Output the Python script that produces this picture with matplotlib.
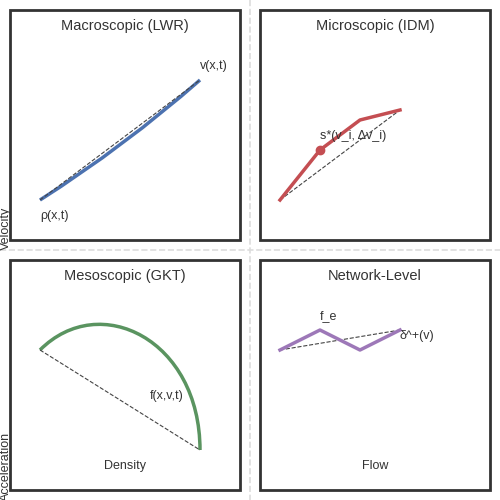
import matplotlib; matplotlib.use('Agg')
import numpy as np
from matplotlib import pyplot as plt
from matplotlib.patches import Rectangle, PathPatch
from matplotlib.path import Path

plt.rcParams['font.family'] = ['Liberation Sans', 'DejaVu Sans']

# curves, in figure pixel units (y down); smooth ones are Bezier control points
lwr_pts = [(40, 200), (125, 146), (200, 80)]
idm_x = [280, 320, 360, 400]
idm_y = [200, 150, 120, 110]
gkt_pts = [(40, 350), (100, 290), (200, 340), (200, 450)]
net_x = [280, 320, 360, 400]
net_y = [350, 330, 350, 330]

titles = ['Macroscopic (LWR)', 'Microscopic (IDM)', 'Mesoscopic (GKT)', 'Network-Level']
boxes = [(10, 10), (260, 10), (10, 260), (260, 260)]

fig = plt.figure(figsize=(5, 5), dpi=100)
ax = fig.add_axes([0, 0, 1, 1])
ax.set_xlim(0, 500)
ax.set_ylim(500, 0)
ax.axis('off')

for (x0, y0), t in zip(boxes, titles):
    ax.add_patch(Rectangle((x0, y0), 230, 230, fill=False, ec='#333333', lw=2))
    ax.text(x0 + 115, y0 + 16, t, ha='center', va='center', fontsize=10.5, color='#333333')

ax.plot([0, 500], [250, 250], ls='--', color='#dddddd', lw=1.2)
ax.plot([250, 250], [0, 500], ls='--', color='#dddddd', lw=1.2)

dash = dict(ls='--', color='#444444', lw=0.8)
ax.plot([40, 200], [200, 80], **dash)
ax.add_patch(PathPatch(Path(lwr_pts, [Path.MOVETO, Path.CURVE3, Path.CURVE3]),
                       fill=False, ec='#4c72b0', lw=2.5))
ax.text(200, 66, 'v(x,t)', fontsize=9, color='#333333', va='center')
ax.text(40, 216, 'ρ(x,t)', fontsize=9, color='#333333', va='center')

ax.plot([280, 400], [200, 110], **dash)
ax.plot(idm_x, idm_y, color='#c44e52', lw=2.5)
ax.plot(idm_x[1], idm_y[1], 'o', color='#c44e52', ms=6)
ax.text(320, 136, 's*(v_i, Δv_i)', fontsize=9, color='#333333', va='center')

ax.plot([40, 200], [350, 450], **dash)
ax.add_patch(PathPatch(Path(gkt_pts, [Path.MOVETO, Path.CURVE4, Path.CURVE4, Path.CURVE4]),
                       fill=False, ec='#5a9460', lw=2.5))
ax.text(150, 396, 'f(x,v,t)', fontsize=9, color='#333333', va='center')
ax.text(125, 466, 'Density', fontsize=9, color='#333333', ha='center', va='center')

ax.plot([280, 400], [350, 330], **dash)
ax.plot(net_x, net_y, color='#9d78b8', lw=2.5)
ax.text(320, 316, 'f_e', fontsize=9, color='#333333', va='center')
ax.text(400, 336, 'δ^+(v)', fontsize=9, color='#333333', va='center')
ax.text(375, 466, 'Flow', fontsize=9, color='#333333', ha='center', va='center')

ax.text(6, 228, 'Velocity', rotation=90, fontsize=9, color='#333333', ha='center', va='center')
ax.text(6, 466, 'Acceleration', rotation=90, fontsize=9, color='#333333', ha='center', va='center')

fig.savefig('out.png', dpi=100)
